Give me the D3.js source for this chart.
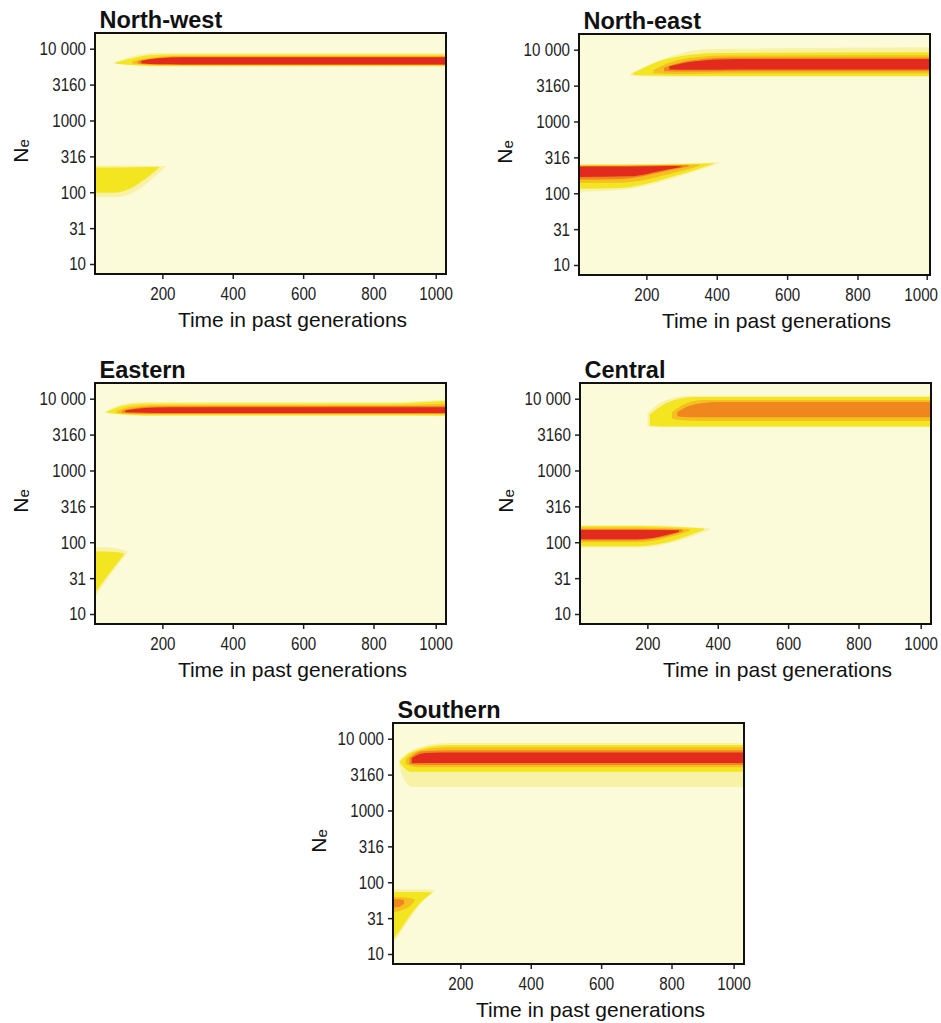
<!DOCTYPE html>
<html>
<head>
<meta charset="utf-8">
<script src="https://cdn.jsdelivr.net/npm/d3@7"></script>
<style>
	body { margin: 0; background: #fff; }
	.tick text { font-family: "Liberation Sans", Arial, sans-serif; font-size: 18.5px; fill: #222; }
	.ttl { font-family: "Liberation Sans", Arial, sans-serif; font-weight: bold; font-size: 23.5px; fill: #111; }
	.lbl { font-family: "Liberation Sans", Arial, sans-serif; font-size: 21px; fill: #111; }
</style>
</head>
<body>
<svg class="viz" width="941" height="1023"></svg>
<script>
// *** Values ***
const panelNames = ["North-west", "North-east", "Eastern", "Central", "Southern"];
const xTicks = [200, 400, 600, 800, 1000];
const yTicks = [10, 31.6, 100, 316, 1000, 3160, 10000];
const yTickLabels = ["10", "31", "100", "316", "1000", "3160", "10 000"];

// density level colours (low -> high), background
const levelColors = ["#F7F2A6", "#F4E521", "#F5BF1F", "#F0871E", "#E32A1F"];
const bgColor = "#FBFBDA";

// contour bands: level, time points, lower / upper Ne at each time
const nwBands = [
	{ lvl: 1, t: [60, 110, 180, 1040], lo: [6200, 5900, 5600, 5600], hi: [6400, 7700, 8700, 8700] },
	{ lvl: 2, t: [68, 120, 200, 1040], lo: [6150, 5900, 5750, 5750], hi: [6400, 7500, 8300, 8300] },
	{ lvl: 3, t: [115, 160, 230, 1040], lo: [6150, 5950, 5900, 5900], hi: [6700, 7400, 7900, 7900] },
	{ lvl: 4, t: [130, 175, 245, 1040], lo: [6200, 6000, 5970, 5970], hi: [6750, 7350, 7750, 7750] },
	{ lvl: 5, t: [140, 190, 260, 1040], lo: [6250, 6050, 6030, 6030], hi: [6800, 7350, 7600, 7600] },
	{ lvl: 1, t: [0, 70, 210], lo: [85, 85, 228], hi: [235, 235, 232] },
	{ lvl: 2, t: [0, 62, 190], lo: [98, 98, 218], hi: [222, 222, 226] }
];
const neBands = [
	{ lvl: 1, t: [155, 260, 380, 1040], lo: [4300, 4200, 4200, 4200], hi: [4700, 7800, 10200, 10800] },
	{ lvl: 2, t: [162, 260, 400, 1040], lo: [4450, 4350, 4300, 4300], hi: [4700, 7500, 9000, 9200] },
	{ lvl: 3, t: [220, 290, 420, 1040], lo: [4700, 4600, 4650, 4650], hi: [5200, 7200, 8300, 8400] },
	{ lvl: 4, t: [250, 320, 440, 1040], lo: [5000, 4950, 5000, 5000], hi: [5600, 7000, 7800, 7800] },
	{ lvl: 5, t: [265, 340, 460, 1040], lo: [5300, 5250, 5300, 5300], hi: [5900, 6900, 7400, 7400] },
	{ lvl: 1, t: [0, 120, 300, 410], lo: [105, 110, 175, 265], hi: [255, 255, 260, 270] },
	{ lvl: 2, t: [0, 120, 300, 390], lo: [115, 118, 185, 255], hi: [250, 250, 255, 262] },
	{ lvl: 3, t: [0, 120, 290, 350], lo: [140, 140, 200, 240], hi: [245, 245, 250, 252] },
	{ lvl: 4, t: [0, 130, 270, 320], lo: [155, 158, 210, 235], hi: [240, 240, 245, 245] },
	{ lvl: 5, t: [0, 150, 260, 300], lo: [168, 172, 215, 232], hi: [235, 235, 240, 238] }
];
const eaBands = [
	{ lvl: 1, t: [35, 80, 140, 850, 1040], lo: [6400, 6000, 5750, 5750, 5700], hi: [6600, 8200, 9000, 9000, 9800] },
	{ lvl: 2, t: [42, 90, 150, 850, 1040], lo: [6350, 6000, 5850, 5850, 5800], hi: [6600, 8000, 8600, 8600, 9400] },
	{ lvl: 3, t: [70, 110, 170, 850, 1040], lo: [6300, 6100, 6050, 6050, 6050], hi: [6700, 7700, 8100, 8100, 8500] },
	{ lvl: 4, t: [85, 130, 190, 1040], lo: [6350, 6200, 6150, 6150], hi: [6800, 7500, 7800, 7900] },
	{ lvl: 5, t: [95, 150, 220, 1040], lo: [6450, 6350, 6300, 6300], hi: [6900, 7400, 7600, 7600] },
	{ lvl: 1, t: [0, 40, 100], lo: [15, 29, 71], hi: [85, 85, 75] },
	{ lvl: 2, t: [0, 40, 90], lo: [17, 32, 66], hi: [74, 74, 70] }
];
const ceBands = [
	{ lvl: 1, t: [200, 240, 320, 1040], lo: [4100, 4000, 4000, 4000], hi: [6200, 9000, 11000, 11000] },
	{ lvl: 2, t: [207, 250, 330, 1040], lo: [4200, 4100, 4100, 4100], hi: [6000, 8500, 10600, 10600] },
	{ lvl: 3, t: [270, 300, 360, 1040], lo: [5300, 5000, 4900, 4900], hi: [6500, 8200, 9600, 9600] },
	{ lvl: 4, t: [285, 320, 400, 1040], lo: [5700, 5500, 5500, 5500], hi: [6500, 8000, 9000, 9000] },
	{ lvl: 1, t: [0, 175, 380], lo: [84, 84, 150], hi: [172, 172, 155] },
	{ lvl: 2, t: [0, 175, 360], lo: [88, 88, 148], hi: [168, 168, 155] },
	{ lvl: 3, t: [0, 170, 320], lo: [100, 100, 142], hi: [160, 160, 152] },
	{ lvl: 4, t: [0, 170, 300], lo: [106, 106, 140], hi: [153, 153, 150] },
	{ lvl: 5, t: [0, 170, 290], lo: [110, 110, 140], hi: [148, 148, 147] }
];
const soBands = [
	{ lvl: 1, t: [25, 40, 65, 160, 1040], lo: [4700, 2700, 2130, 2130, 2130], hi: [4900, 5800, 7000, 8700, 8700] },
	{ lvl: 2, t: [29, 60, 160, 1040], lo: [4500, 3450, 3450, 3450], hi: [4900, 6500, 8200, 8200] },
	{ lvl: 3, t: [45, 80, 170, 1040], lo: [4400, 4000, 4000, 4000], hi: [5200, 6800, 7600, 7600] },
	{ lvl: 4, t: [55, 90, 180, 1040], lo: [4450, 4300, 4300, 4300], hi: [5300, 6700, 6900, 6900] },
	{ lvl: 5, t: [62, 100, 190, 1040], lo: [4550, 4600, 4600, 4600], hi: [5400, 6300, 6400, 6400] },
	{ lvl: 1, t: [0, 30, 60, 95, 130], lo: [12.5, 20, 33, 55, 78], hi: [80, 80, 80, 80, 78] },
	{ lvl: 2, t: [0, 30, 60, 95, 120], lo: [14, 22, 36, 57, 71], hi: [73, 73, 73, 73, 72] },
	{ lvl: 3, t: [0, 30, 60, 70], lo: [38, 40, 48, 55], hi: [62, 62, 60, 58] },
	{ lvl: 4, t: [0, 25, 40], lo: [44, 45, 50], hi: [58, 58, 56] }
];
const panelBands = [nwBands, neBands, eaBands, ceBands, soBands];

// *** Layout ***
const pW = 351, pH = 241;
const narrow = 0.82; // tick labels are set in a condensed face
const layout = [
	{ x: 95, y: 33, x1000: 340.7, lastDx: 0 },
	{ x: 579, y: 34, x1000: 347.7, lastDx: -6 },
	{ x: 95, y: 383, x1000: 340.7, lastDx: 0 },
	{ x: 580, y: 383, x1000: 340.7, lastDx: 0 },
	{ x: 393, y: 723, x1000: 340.6, lastDx: 0 }
];

let svg = d3.select(".viz");

panelNames.forEach((name, i) => {
	let lay = layout[i];
	let g = svg.append("g").attr("transform", "translate(" + lay.x + "," + lay.y + ")");

	let x = d3.scaleLinear().domain([0, 800, 1000]).range([-3, 278.5, lay.x1000]);
	let y = d3.scaleLog().domain([10, 10000]).range([231, 15.7]);

	g.append("clipPath").attr("id", "clip" + i)
		.append("rect").attr("width", pW).attr("height", pH);

	let body = g.append("g").attr("clip-path", "url(#clip" + i + ")");
	body.append("rect").attr("width", pW).attr("height", pH).attr("fill", bgColor);

	let area = d3.area()
		.curve(d3.curveMonotoneX)
		.x((d) => x(d.t))
		.y0((d) => y(d.lo))
		.y1((d) => y(d.hi));

	panelBands[i].forEach((b) => {
		let pts = b.t.map((t, k) => ({ t: t, lo: b.lo[k], hi: b.hi[k] }));
		body.append("path")
			.attr("d", area(pts))
			.attr("fill", levelColors[b.lvl - 1]);
	});

	g.append("g")
		.call(d3.axisLeft(y).tickValues(yTicks).tickFormat((d, k) => yTickLabels[k]).tickSize(5).tickPadding(4).tickSizeOuter(0))
		.call((a) => a.select(".domain").remove())
		.call((a) => a.selectAll("line").attr("stroke", "#222").attr("stroke-width", 1.5))
		.call((a) => a.selectAll("text").attr("x", 0).attr("transform", "translate(-9,0)scale(" + narrow + ",1)"));

	g.append("g").attr("transform", "translate(0," + pH + ")")
		.call(d3.axisBottom(x).tickValues(xTicks).tickFormat(d3.format("d")).tickSize(5).tickPadding(8).tickSizeOuter(0))
		.call((a) => a.select(".domain").remove())
		.call((a) => a.selectAll("line").attr("stroke", "#222").attr("stroke-width", 1.5))
		.call((a) => a.selectAll("text").attr("transform", (d) => "translate(" + (d === 1000 ? lay.lastDx : 0) + ",0)scale(" + narrow + ",1)"));

	g.append("rect").attr("width", pW).attr("height", pH)
		.attr("fill", "none").attr("stroke", "#111").attr("stroke-width", 2);

	g.append("text").attr("class", "ttl").attr("x", 4.5).attr("y", -5.5).text(name);

	g.append("text").attr("class", "lbl")
		.attr("x", 197.5).attr("y", pH + 53)
		.attr("text-anchor", "middle")
		.text("Time in past generations");

	let yl = g.append("text").attr("class", "lbl")
		.attr("transform", "translate(-67," + 118 + ")rotate(-90)")
		.attr("text-anchor", "middle");
	yl.append("tspan").text("N");
	yl.append("tspan").attr("font-size", "15px").attr("dy", 1).text("e");
});
</script>
</body>
</html>
